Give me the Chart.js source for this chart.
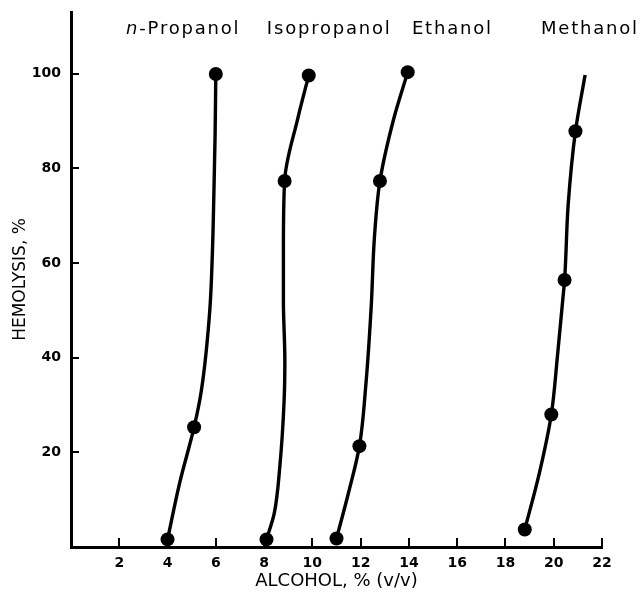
<!DOCTYPE html>
<html>
<head>
<meta charset="utf-8">
<script src="https://cdn.jsdelivr.net/npm/chart.js@4"></script>
<style>
  html, body { margin: 0; padding: 0; background: #fff; }
  #wrap { width: 644px; height: 594px; }
</style>
</head>
<body>
<div id="wrap"><canvas id="hemolysis"></canvas></div>
<script>
const seriesNames = ['n-Propanol', 'Isopropanol', 'Ethanol', 'Methanol'];

// measured points (filled dots)
const nPropX = [4.0, 5.1, 6.0];
const nPropY = [1.6, 25.3, 99.9];
const isoX = [8.1, 8.85, 9.85];
const isoY = [1.6, 77.3, 99.6];
const ethX = [11.0, 11.95, 12.8, 13.95];
const ethY = [1.8, 21.3, 77.3, 100.3];
const methX = [18.8, 19.9, 20.45, 20.9];
const methY = [3.7, 28.0, 56.4, 87.8];

// hand drawn curves
const nPropCurveX = [4.0, 4.5, 5.1, 5.4, 5.75, 5.86, 5.93, 5.97, 6.0];
const nPropCurveY = [1.6, 13.5, 25.3, 33, 50, 62.5, 77, 87, 99.9];
const isoCurveX = [8.1, 8.42, 8.65, 8.83, 8.86, 8.8, 8.8, 8.85, 9.4, 9.85];
const isoCurveY = [1.6, 7.1, 16.9, 31, 39.4, 52, 62.5, 77.3, 90.6, 99.6];
const ethCurveX = [11.0, 11.49, 11.95, 12.22, 12.44, 12.57, 12.8, 13.38, 13.95];
const ethCurveY = [1.8, 11.3, 21.3, 34.5, 51, 65.3, 77.3, 90.6, 100.3];
const methCurveX = [18.8, 19.4, 19.9, 20.15, 20.37, 20.45, 20.6, 20.9, 21.3];
const methCurveY = [3.7, 15.5, 28, 40.1, 52, 56.4, 72.4, 87.8, 99.7];

const xTicks = [2, 4, 6, 8, 10, 12, 14, 16, 18, 20, 22];
const yTicks = [20, 40, 60, 80, 100];

const zip = (xs, ys) => xs.map((x, i) => ({ x, y: ys[i] }));

const dots = (xs, ys) => ({
  data: zip(xs, ys),
  showLine: false,
  pointRadius: 7,
  pointBackgroundColor: '#000',
  pointBorderWidth: 0,
});
// curves run upward, so interpolate along y
const curve = (xs, ys) => ({
  data: zip(xs, ys),
  showLine: true,
  indexAxis: 'y',
  cubicInterpolationMode: 'monotone',
  borderColor: '#000',
  borderWidth: 3.4,
  pointRadius: 0,
});

// series names written above the curves
const curveLabels = {
  id: 'curveLabels',
  afterDatasetsDraw(chart, args, opts) {
    const ctx = chart.ctx;
    const xs = chart.scales.x, ys = chart.scales.y;
    ctx.save();
    ctx.fillStyle = '#000';
    ctx.textBaseline = 'middle';
    ctx.textAlign = 'left';
    ctx.letterSpacing = '1.8px';
    const normal = '18px "DejaVu Sans"';
    const italic = 'italic 18px "DejaVu Sans"';
    seriesNames.forEach((name, i) => {
      const cx = xs.getPixelForValue(opts.at[i]);
      const cy = ys.getPixelForValue(opts.y);
      let parts = [[name, normal]];
      if (name.startsWith('n-')) parts = [['n', italic], [name.slice(1), normal]];
      let w = 0;
      parts.forEach(([t, f]) => { ctx.font = f; w += ctx.measureText(t).width; });
      let x = cx - w / 2;
      parts.forEach(([t, f]) => {
        ctx.font = f;
        ctx.fillText(t, x, cy);
        x += ctx.measureText(t).width;
      });
    });
    ctx.restore();
  }
};

const tickFont = { family: '"DejaVu Sans"', size: 14, weight: 'bold' };

new Chart(document.getElementById('hemolysis'), {
  type: 'scatter',
  data: {
    datasets: [
      dots(nPropX, nPropY), dots(isoX, isoY), dots(ethX, ethY), dots(methX, methY),
      curve(nPropCurveX, nPropCurveY), curve(isoCurveX, isoCurveY),
      curve(ethCurveX, ethCurveY), curve(methCurveX, methCurveY),
    ]
  },
  options: {
    responsive: true,
    maintainAspectRatio: false,
    animation: false,
    layout: { padding: { top: 12, right: 42, left: 0, bottom: 0 } },
    plugins: {
      legend: { display: false },
      tooltip: { enabled: false },
      curveLabels: { at: [4.65, 10.7, 15.8, 21.5], y: 109.3 },
    },
    scales: {
      x: {
        type: 'linear', min: 0, max: 22,
        afterBuildTicks: s => { s.ticks = xTicks.map(v => ({ value: v })); },
        afterFit: s => { s.height = 47; s.paddingLeft = 0; s.paddingRight = 0; },
        grid: { drawOnChartArea: false, color: '#000', lineWidth: 2, tickLength: -9 },
        border: { color: '#000', width: 3 },
        ticks: { padding: 17, font: tickFont, color: '#000', maxRotation: 0 },
        title: { display: true, text: 'ALCOHOL, % (v/v)', font: { family: '"DejaVu Sans"', size: 18 }, color: '#000', padding: { top: 0, bottom: 2 } },
      },
      y: {
        type: 'linear', min: 0, max: 113,
        afterBuildTicks: s => { s.ticks = yTicks.map(v => ({ value: v })); },
        afterFit: s => { s.width = 71; s.paddingTop = 0; s.paddingBottom = 0; },
        grid: { drawOnChartArea: false, color: '#000', lineWidth: 2, tickLength: -8 },
        border: { color: '#000', width: 3 },
        ticks: { padding: 18, font: tickFont, color: '#000' },
        title: { display: true, text: 'HEMOLYSIS, %', font: { family: '"DejaVu Sans"', size: 17 }, color: '#000', padding: { top: 10, bottom: 4 } },
      },
    },
  },
  plugins: [curveLabels],
});
</script>
</body>
</html>
